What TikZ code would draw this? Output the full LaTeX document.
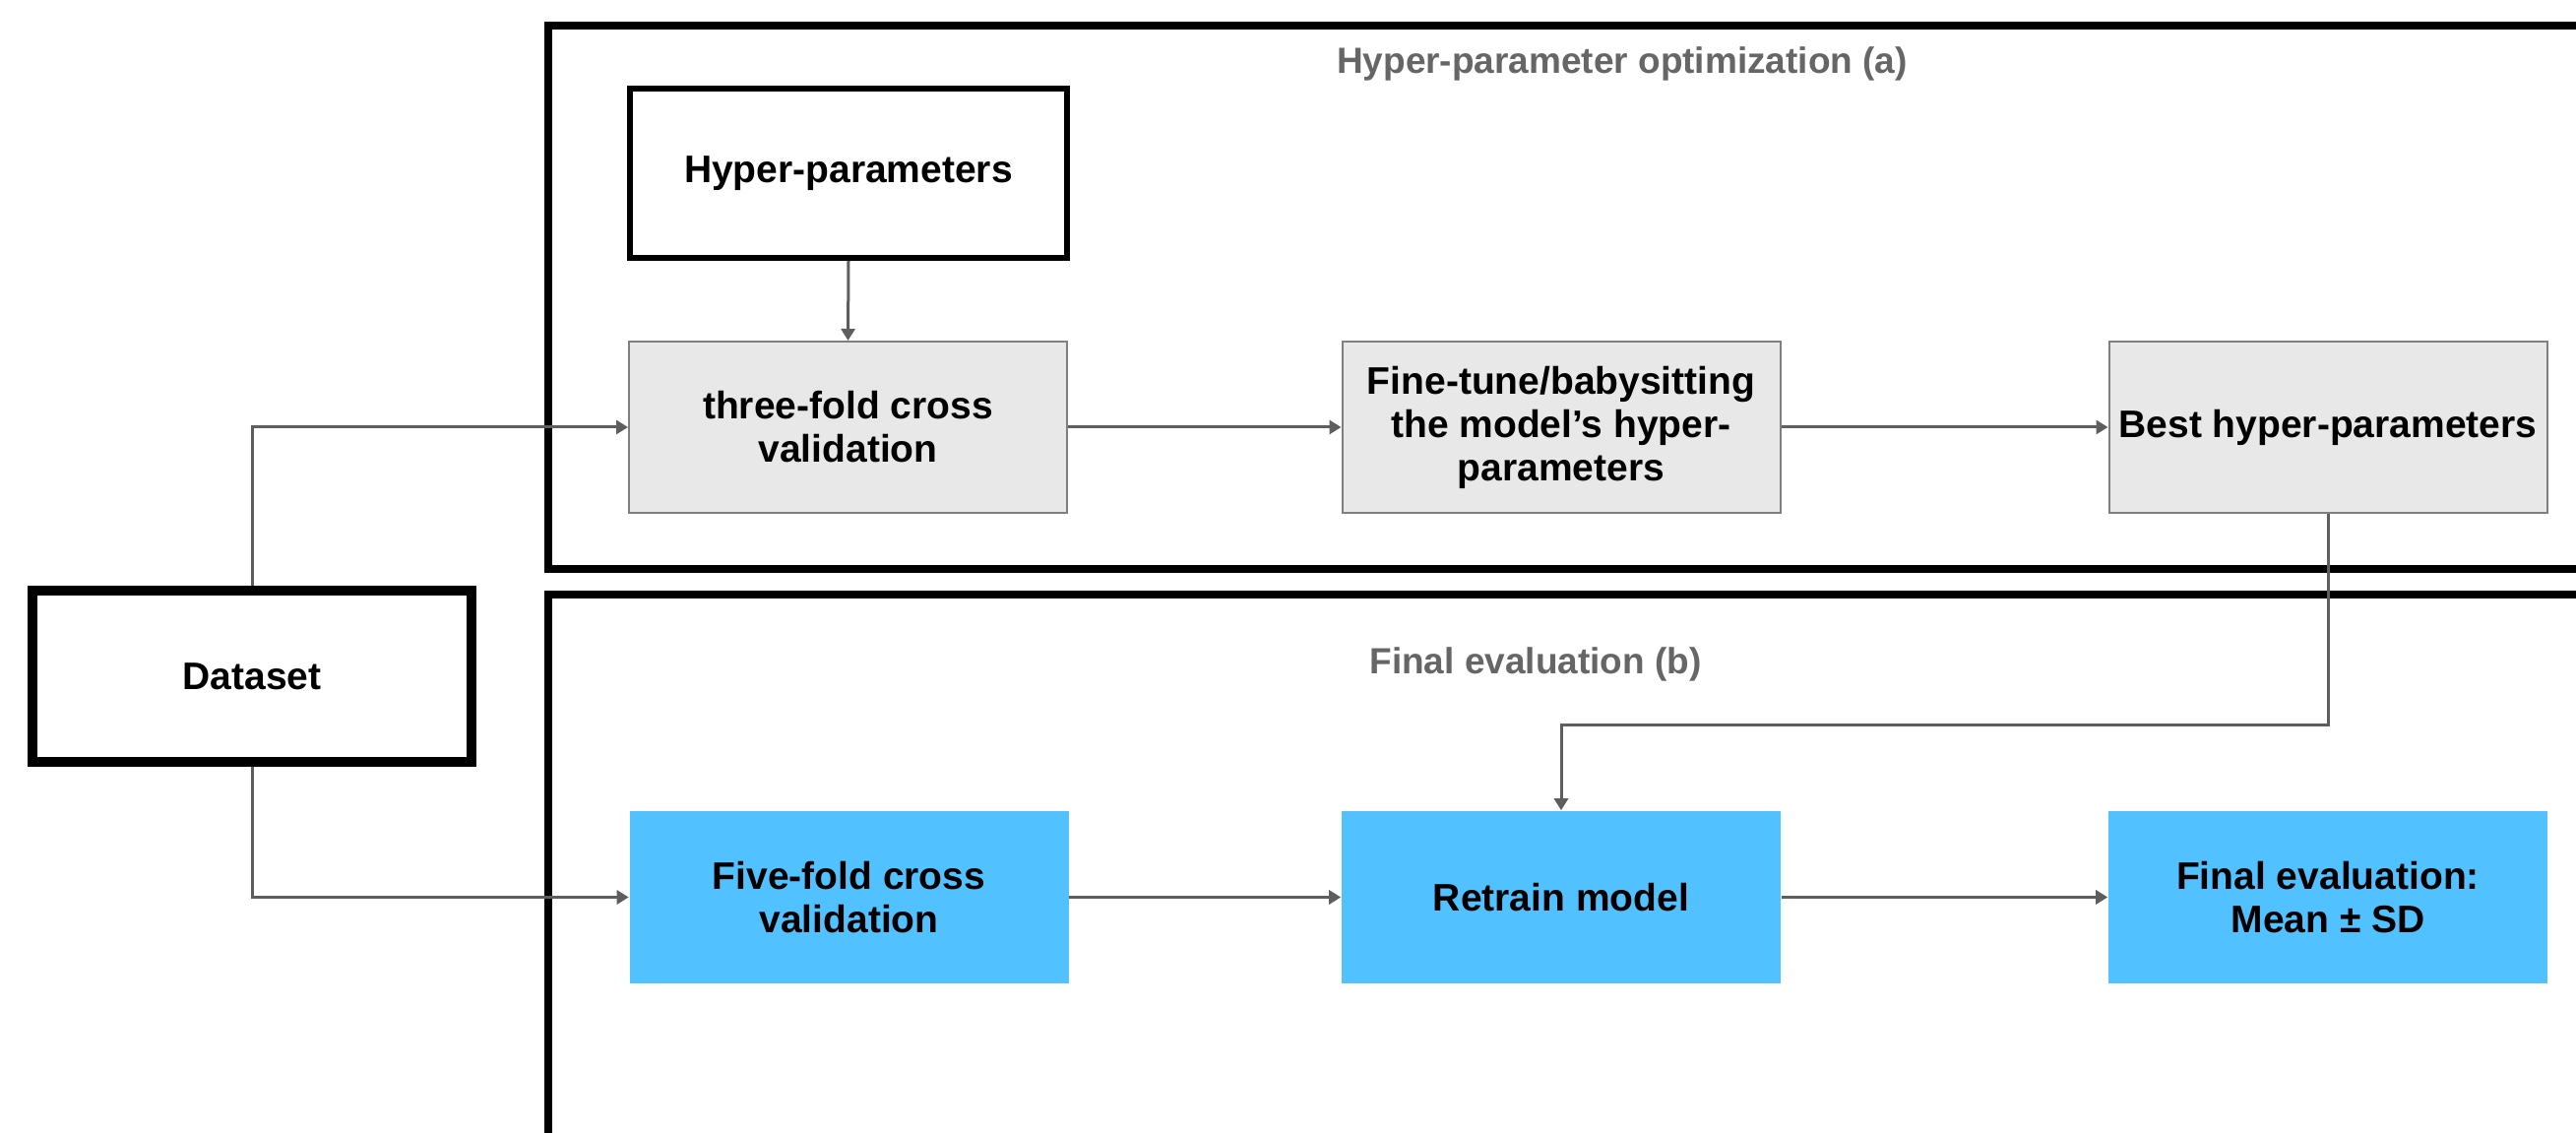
\documentclass[tikz,border=0pt]{standalone}
\usepackage{fontspec}
\setmainfont{Liberation Sans}
\usetikzlibrary{arrows.meta}
\definecolor{grayfill}{HTML}{E8E8E8}
\definecolor{grayedge}{HTML}{7F7F7F}
\definecolor{bluefill}{HTML}{52C1FF}
\definecolor{connc}{HTML}{5E5E5E}
\definecolor{titlec}{HTML}{666666}
\begin{document}
\begin{tikzpicture}[x=0.25pt,y=-0.25pt,
  boxtext/.style={font=\bfseries\fontsize{9.75}{11}\selectfont, align=center, text=black, inner sep=0pt},
  graybox/.style={boxtext, draw=grayedge, line width=0.5pt, fill=grayfill, minimum width=111.25pt, minimum height=43.5pt},
  bluebox/.style={boxtext, fill=bluefill, minimum width=111.5pt, minimum height=43.75pt},
  whitebox/.style={boxtext, draw=black, fill=white, minimum width=110.9pt, minimum height=43.1pt, line width=1.4pt},
  databox/.style={boxtext, draw=black, fill=white, minimum width=111.5pt, minimum height=43.5pt, line width=2.5pt},
  frame/.style={draw=black, line width=2pt},
  titletext/.style={font=\bfseries\fontsize{9.25}{11}\selectfont, text=titlec, inner sep=0pt},
  conn/.style={draw=connc, line width=0.75pt, -{Triangle[length=3pt,width=3.5pt]}}
]
\useasboundingbox (0,0) rectangle (2617,1151);
\fill[white] (0,0) rectangle (2617,1151);
\begin{scope}
\clip (0,0) rectangle (2617,1151);
\draw[frame] (2700,26) -- (557,26) -- (557,578) -- (2700,578);
\draw[frame] (2700,604) -- (557,604) -- (557,1200);
\end{scope}

\node[titletext] (ta) at (1648,65) {Hyper-parameter optimization (a)};
\node[titletext] (tb) at (1560,675) {Final evaluation (b)};

\node[whitebox] (hyp) at (862,176) {Hyper-parameters};
\node[graybox] (three) at (861.5,434) {three-fold cross\\validation};
\node[graybox] (fine) at (1586,434) {Fine-tune/babysitting\\the model’s hyper-\\parameters};
\node[graybox] (best) at (2365,434) {Best hyper-parameters};
\node[databox] (data) at (256,687) {Dataset};
\node[bluebox] (five) at (862.5,911.5) {Five-fold cross\\validation};
\node[bluebox] (retrain) at (1586,911.5) {Retrain model};
\node[bluebox] (final) at (2365,911.5) {Final evaluation:\\Mean ± SD};

\coordinate (bend) at (1586,737);

\draw[conn] (hyp.south) -- (three.north);
\draw[conn] (data.north) |- (three.west);
\draw[conn] (data.south) |- (five.west);
\draw[conn] (three.east) -- (fine.west);
\draw[conn] (fine.east) -- (best.west);
\draw[conn] (five.east) -- (retrain.west);
\draw[conn] (retrain.east) -- (final.west);
\draw[conn] (best.south) |- (bend) -- (retrain.north);
\end{tikzpicture}
\end{document}
